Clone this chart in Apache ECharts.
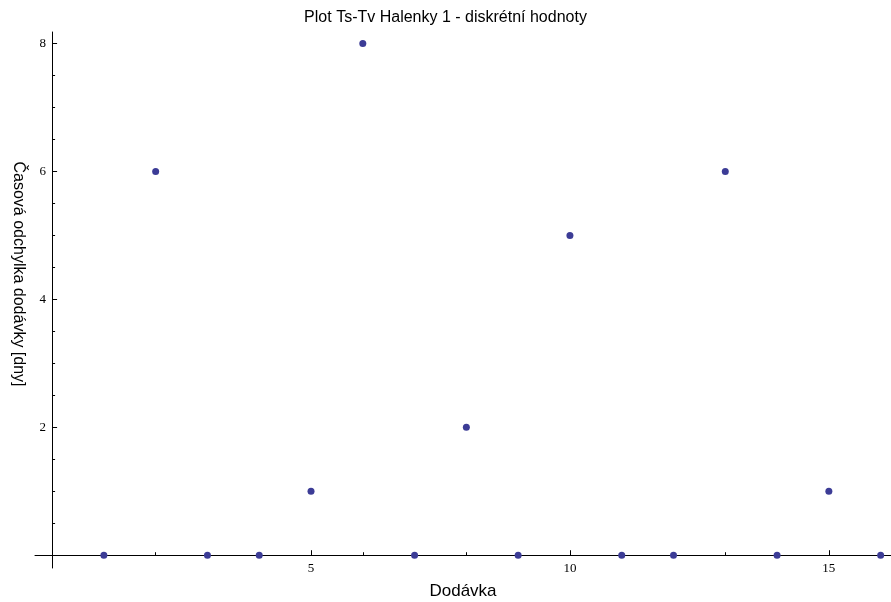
<!DOCTYPE html>
<html>
<head>
<meta charset="utf-8">
<script src="https://cdn.jsdelivr.net/npm/echarts@6/dist/echarts.min.js"></script>
<style>
  html, body { margin: 0; padding: 0; background: #fff; }
  #chart { width: 891px; height: 602px; }
</style>
</head>
<body>
<div id="chart"></div>
<script>
// Deliveries (Dodávka) and their time deviation in days
const deliveries = [1, 2, 3, 4, 5, 6, 7, 8, 9, 10, 11, 12, 13, 14, 15, 16];
const deviationDays = [0, 6, 0, 0, 1, 8, 0, 2, 0, 5, 0, 0, 6, 0, 1, 0];

// Tick positions
const xMajorTicks = [5, 10, 15];
const xMinorTicks = [1, 2, 3, 4, 6, 7, 8, 9, 11, 12, 13, 14, 16];
const yMajorTicks = [2, 4, 6, 8];
const yMinorTicks = [0.5, 1, 1.5, 2.5, 3, 3.5, 4.5, 5, 5.5, 6.5, 7, 7.5];

// Axis ranges: the axes cross at the origin and run a little past it
const X_MIN = -0.33, X_MAX = 16.2;
const Y_MIN = -0.2, Y_MAX = 8.18;

const tickFont = { fontFamily: 'Liberation Serif', fontSize: 13, color: '#000' };
const lineStyle = { color: '#000', width: 1 };

const chart = echarts.init(document.getElementById('chart'), null, { renderer: 'canvas' });

chart.setOption({
  animation: false,
  backgroundColor: '#fff',
  title: {
    text: 'Plot Ts-Tv Halenky 1 - diskrétní hodnoty',
    left: 'center',
    top: 5,
    textStyle: { fontFamily: 'Liberation Sans', fontSize: 16, fontWeight: 'normal', color: '#000' }
  },
  grid: { left: 35, right: 0, top: 32, bottom: 34, outerBoundsMode: 'none', containLabel: false },
  xAxis: [
    {
      type: 'value', min: X_MIN, max: X_MAX, position: 'bottom',
      name: 'Dodávka', nameLocation: 'middle', nameGap: 15,
      nameTextStyle: { fontFamily: 'Liberation Sans', fontSize: 17, color: '#000' },
      axisLine: { show: true, onZero: true, lineStyle },
      axisTick: { show: true, inside: true, length: 5, lineStyle, customValues: xMajorTicks },
      axisLabel: { show: true, margin: -6, ...tickFont, customValues: xMajorTicks },
      splitLine: { show: false }
    },
    {
      type: 'value', min: X_MIN, max: X_MAX, position: 'bottom',
      axisLine: { show: false, onZero: true },
      axisTick: { show: true, inside: true, length: 3, lineStyle, customValues: xMinorTicks },
      axisLabel: { show: false },
      splitLine: { show: false }
    }
  ],
  yAxis: [
    {
      type: 'value', min: Y_MIN, max: Y_MAX, position: 'left',
      name: 'Časová odchylka dodávky [dny]', nameLocation: 'middle', nameGap: 9, nameRotate: -90,
      nameTextStyle: { fontFamily: 'Liberation Sans', fontSize: 16, color: '#000', padding: [0, 52, 0, 0] },
      axisLine: { show: true, onZero: true, lineStyle },
      axisTick: { show: true, inside: true, length: 5, lineStyle, customValues: yMajorTicks },
      axisLabel: { show: true, margin: -11, ...tickFont, customValues: yMajorTicks },
      splitLine: { show: false }
    },
    {
      type: 'value', min: Y_MIN, max: Y_MAX, position: 'left',
      axisLine: { show: false, onZero: true },
      axisTick: { show: true, inside: true, length: 3, lineStyle, customValues: yMinorTicks },
      axisLabel: { show: false },
      splitLine: { show: false }
    }
  ],
  series: [
    {
      type: 'scatter',
      xAxisIndex: 0,
      yAxisIndex: 0,
      symbol: 'circle',
      symbolSize: 7,
      itemStyle: { color: '#3c3c96', opacity: 1 },
      data: deliveries.map((d, i) => [d, deviationDays[i]]),
      z: 5
    }
  ]
});
</script>
</body>
</html>
